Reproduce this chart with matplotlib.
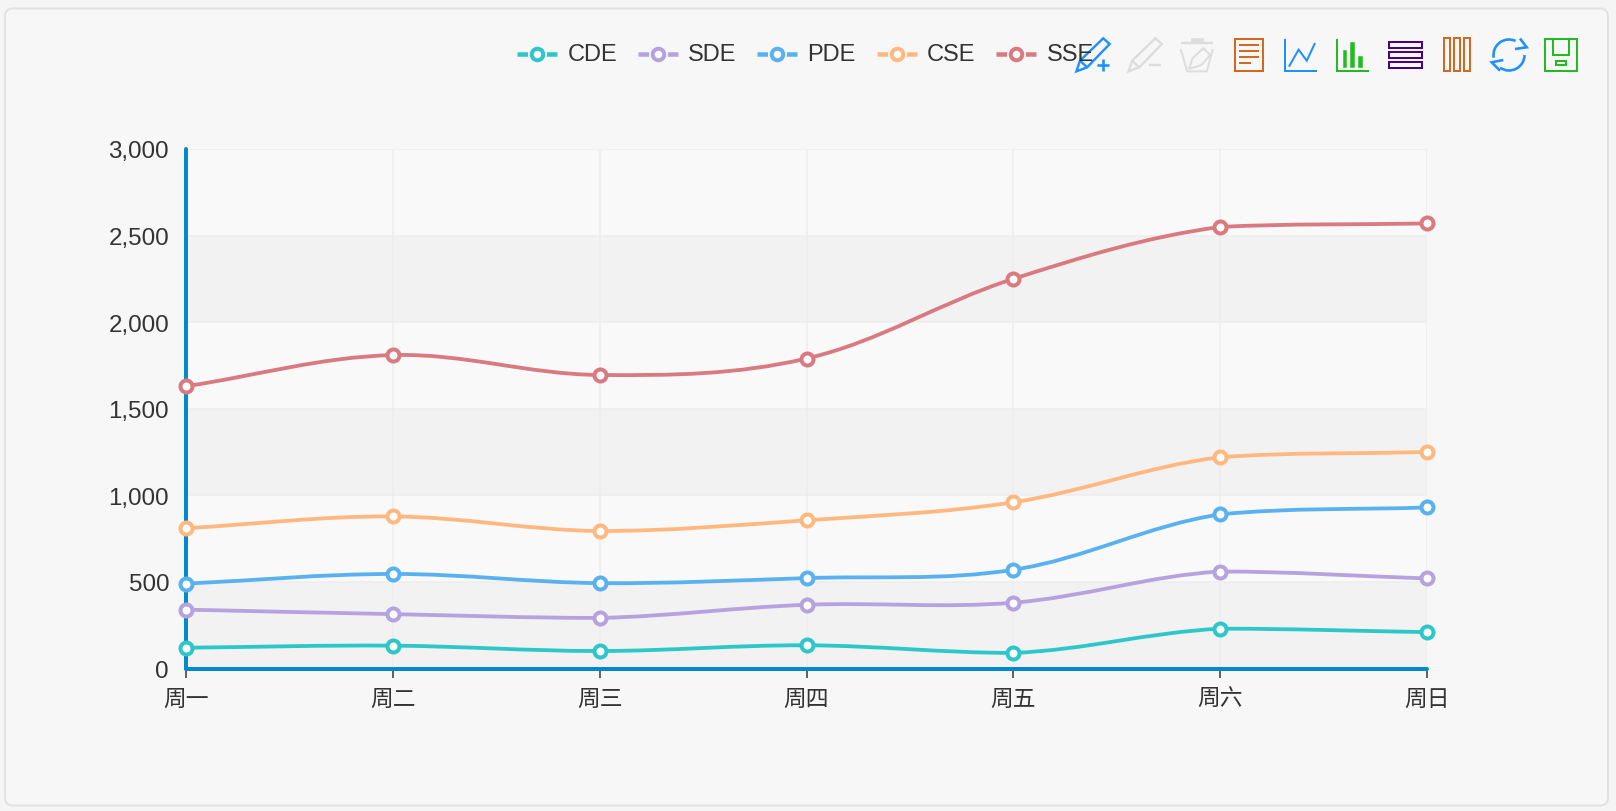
import numpy as np
import matplotlib
matplotlib.use("Agg")
import matplotlib.pyplot as plt
from matplotlib.path import Path
from matplotlib.patches import PathPatch, FancyBboxPatch, Rectangle, Polygon, Arc
from matplotlib.lines import Line2D

plt.rcParams['font.family'] = ['Liberation Sans', 'Noto Sans CJK SC', 'DejaVu Sans']

days = ['周一', '周二', '周三', '周四', '周五', '周六', '周日']
cde = [120, 132, 101, 134, 90, 230, 210]
sde = [220, 182, 191, 234, 290, 330, 310]
pde = [150, 232, 201, 154, 190, 330, 410]
cse = [320, 332, 301, 334, 390, 330, 320]
sse = [820, 932, 901, 934, 1290, 1330, 1320]
series_names = ['CDE', 'SDE', 'PDE', 'CSE', 'SSE']
series_values = [cde, sde, pde, cse, sse]
series_colors = ['#2ec7c9', '#b6a2de', '#5ab1ef', '#ffb980', '#d87a80']
y_ticks = [0, 500, 1000, 1500, 2000, 2500, 3000]

W, H = 1616, 812
L, R, T, B = 186, 1427, 150, 669.5
px = 0.72
TEXT = '#333333'
AXIS = '#008acd'
BG = '#f7f7f7'

fig = plt.figure(figsize=(W / 100, H / 100), dpi=100, facecolor='#f5f5f5')

# pixel overlay for the card, legend and toolbox
back = fig.add_axes([0, 0, 1, 1], zorder=0)
back.set_xlim(0, W); back.set_ylim(H, 0); back.axis('off')
back.add_patch(FancyBboxPatch((5, 9.5), 1603, 797, boxstyle='round,pad=0,rounding_size=8',
                              fc=BG, ec='#e2e2e2', lw=2 * px))

ax = fig.add_axes([L / W, 1 - B / H, (R - L) / W, (B - T) / H], zorder=1)
ax.patch.set_alpha(0)
ax.set_xlim(0, len(days) - 1)
ax.set_ylim(y_ticks[0], y_ticks[-1])

for i, (a, b) in enumerate(zip(y_ticks[:-1], y_ticks[1:])):
    ax.axhspan(a, b, color='#f2f2f2' if i % 2 == 0 else '#f9f9f9', lw=0, zorder=0)
ax.set_axisbelow(True)
ax.grid(True, color='#eeeeee', lw=1.5 * px, zorder=1)

for s in ('top', 'right'):
    ax.spines[s].set_visible(False)
for s in ('left', 'bottom'):
    ax.spines[s].set_color(AXIS)
    ax.spines[s].set_linewidth(4 * px)
    ax.spines[s].set_capstyle('round')
    ax.spines[s].set_zorder(2)

ax.set_xticks(range(len(days)), days)
ax.set_yticks(y_ticks, [f'{v:,}' for v in y_ticks])
ax.tick_params(axis='x', length=9 * px, width=1.5 * px, color=TEXT, labelcolor=TEXT,
               labelsize=16.4, pad=9 * px)
ax.tick_params(axis='y', length=0, labelcolor=TEXT, labelsize=17.4, pad=17 * px)


def smooth_path(xs, ys, smooth=0.35):
    """ECharts-style bezier path through the points."""
    sx = (R - L) / (len(xs) - 1)
    sy = (B - T) / y_ticks[-1]
    pts = np.column_stack([np.asarray(xs, float) * sx, np.asarray(ys, float) * sy])
    lo, hi = pts.min(axis=0), pts.max(axis=0)
    n = len(pts)
    out_cp, in_cp = [None] * n, [None] * n
    for i in range(n):
        prev_p = pts[max(i - 1, 0)]
        next_p = pts[min(i + 1, n - 1)]
        v = (next_p - prev_p) * smooth
        d0 = np.linalg.norm(pts[i] - prev_p)
        d1 = np.linalg.norm(next_p - pts[i])
        t = d1 / (d0 + d1)
        in_cp[i] = np.clip(pts[i] - v * (1 - t), lo, hi)
        out_cp[i] = np.clip(pts[i] + v * t, lo, hi)
    verts = [pts[0]]
    codes = [Path.MOVETO]
    for i in range(n - 1):
        verts += [out_cp[i], in_cp[i + 1], pts[i + 1]]
        codes += [Path.CURVE4] * 3
    verts = np.array(verts) / [sx, sy]
    return Path(verts, codes)


x = np.arange(len(days))
stack = np.zeros(len(days))
for k, (name, vals, col) in enumerate(zip(series_names, series_values, series_colors)):
    stack = stack + np.array(vals)
    ax.add_patch(PathPatch(smooth_path(x, stack), fc='none', ec=col, lw=3.8 * px,
                           capstyle='round', joinstyle='round', zorder=3 + k * 0.1))
    ax.plot(x, stack, ls='none', marker='o', ms=12 * px, mew=4 * px, mec=col, mfc='white',
            clip_on=False, zorder=4 + k * 0.1)

# foreground overlay
fg = fig.add_axes([0, 0, 1, 1], zorder=2)
fg.set_xlim(0, W); fg.set_ylim(H, 0); fg.axis('off'); fg.patch.set_alpha(0)

# legend
legend_x = [517, 637.7, 757, 876.5, 996]
legend_y = 54.5
for name, col, lx in zip(series_names, series_colors, legend_x):
    fg.add_line(Line2D([lx, lx + 40], [legend_y, legend_y], color=col, lw=4.5 * px, solid_capstyle='butt'))
    fg.plot([lx + 20], [legend_y], 'o', ms=19 * px, mfc=BG, mew=0)
    fg.plot([lx + 20], [legend_y], 'o', ms=11.5 * px, mfc='white', mec=col, mew=4 * px)
    fg.text(lx + 50.5, legend_y + 0.5, name, color=TEXT, fontsize=17, va='center', ha='left')


# toolbox icons: coordinates measured in a crop of the reference
def Z(p):
    return (1030 + p[0] / 2.8, 20 + p[1] / 3)


def poly(points, col, closed=False, lw=2.0):
    P = [Z(p) for p in points]
    fg.add_patch(Polygon(P, closed=closed, fill=False, ec=col, lw=lw * px, joinstyle='miter'))


def box(x0, y0, x1, y1, col, lw=2.0, fill=False):
    a, b = Z((x0, y0)), Z((x1, y1))
    fg.add_patch(Rectangle(a, b[0] - a[0], b[1] - a[1], fill=fill, fc=col if fill else 'none',
                           ec=col, lw=lw * px))


BLUE, GREY, BROWN, GREEN, INDIGO = '#1e90ff', '#dddddd', '#d2691e', '#22bb22', '#4b0082'


def pencil(dx, col):
    poly([(130 + dx, 157), (140 + dx, 125), (205 + dx, 58), (223 + dx, 75), (160 + dx, 145)], col, True, lw=2.4)
    poly([(140 + dx, 125), (160 + dx, 145)], col, lw=2.4)


pencil(0, BLUE)
poly([(187, 138), (221, 138)], BLUE, lw=2.6)
poly([(204, 121), (204, 155)], BLUE, lw=2.6)
pencil(146, GREY)
poly([(332, 138), (367, 138)], GREY, lw=2.4)
poly([(422, 72), (512, 72)], GREY, lw=2.4)
box(450, 58, 484, 70, GREY, lw=0.5, fill=True)
poly([(422, 90), (440, 157), (495, 157), (512, 90)], GREY)
poly([(445, 150), (455, 118), (485, 88), (505, 108), (480, 138)], GREY, True)

box(573, 59, 653, 157, BROWN)
for yy, xe in [(77, 640), (95, 640), (113, 640), (131, 618)]:
    poly([(585, yy), (xe, yy)], BROWN)

poly([(713, 60), (713, 156), (803, 156)], BLUE)
poly([(725, 143), (752, 92), (775, 125), (798, 72)], BLUE)

poly([(859, 60), (859, 157), (948, 157)], GREEN)
for x0, x1, y0 in [(875, 886, 93), (896, 907, 69), (918, 930, 111)]:
    box(x0, y0, x1, 144, GREEN, lw=0.5, fill=True)

for y0 in (70, 100, 130):
    box(1004, y0, 1097, y0 + 17, INDIGO)
for x0 in (1160, 1188, 1216):
    box(x0, 58, x0 + 15, 157, BROWN)

c = (1509, 56)
fg.add_patch(Arc(c, 31, 31, theta1=0, theta2=125, color=BLUE, lw=2.6 * px))
fg.add_patch(Arc(c, 31, 31, theta1=170, theta2=295, color=BLUE, lw=2.6 * px))
for tri in ([(1520, 39.5), (1526.7, 48.3), (1515, 50)], [(1500, 71.7), (1491.7, 63.3), (1503.3, 61)]):
    fg.add_patch(Polygon(tri, closed=False, fill=False, ec=BLUE, lw=2.6 * px))

box(1441, 59, 1532, 157, GREEN)
poly([(1463, 59), (1463, 108), (1510, 108), (1510, 59)], GREEN)
box(1474, 127, 1500, 139, GREEN)

fig.savefig('out.png', dpi=100, facecolor=fig.get_facecolor())
